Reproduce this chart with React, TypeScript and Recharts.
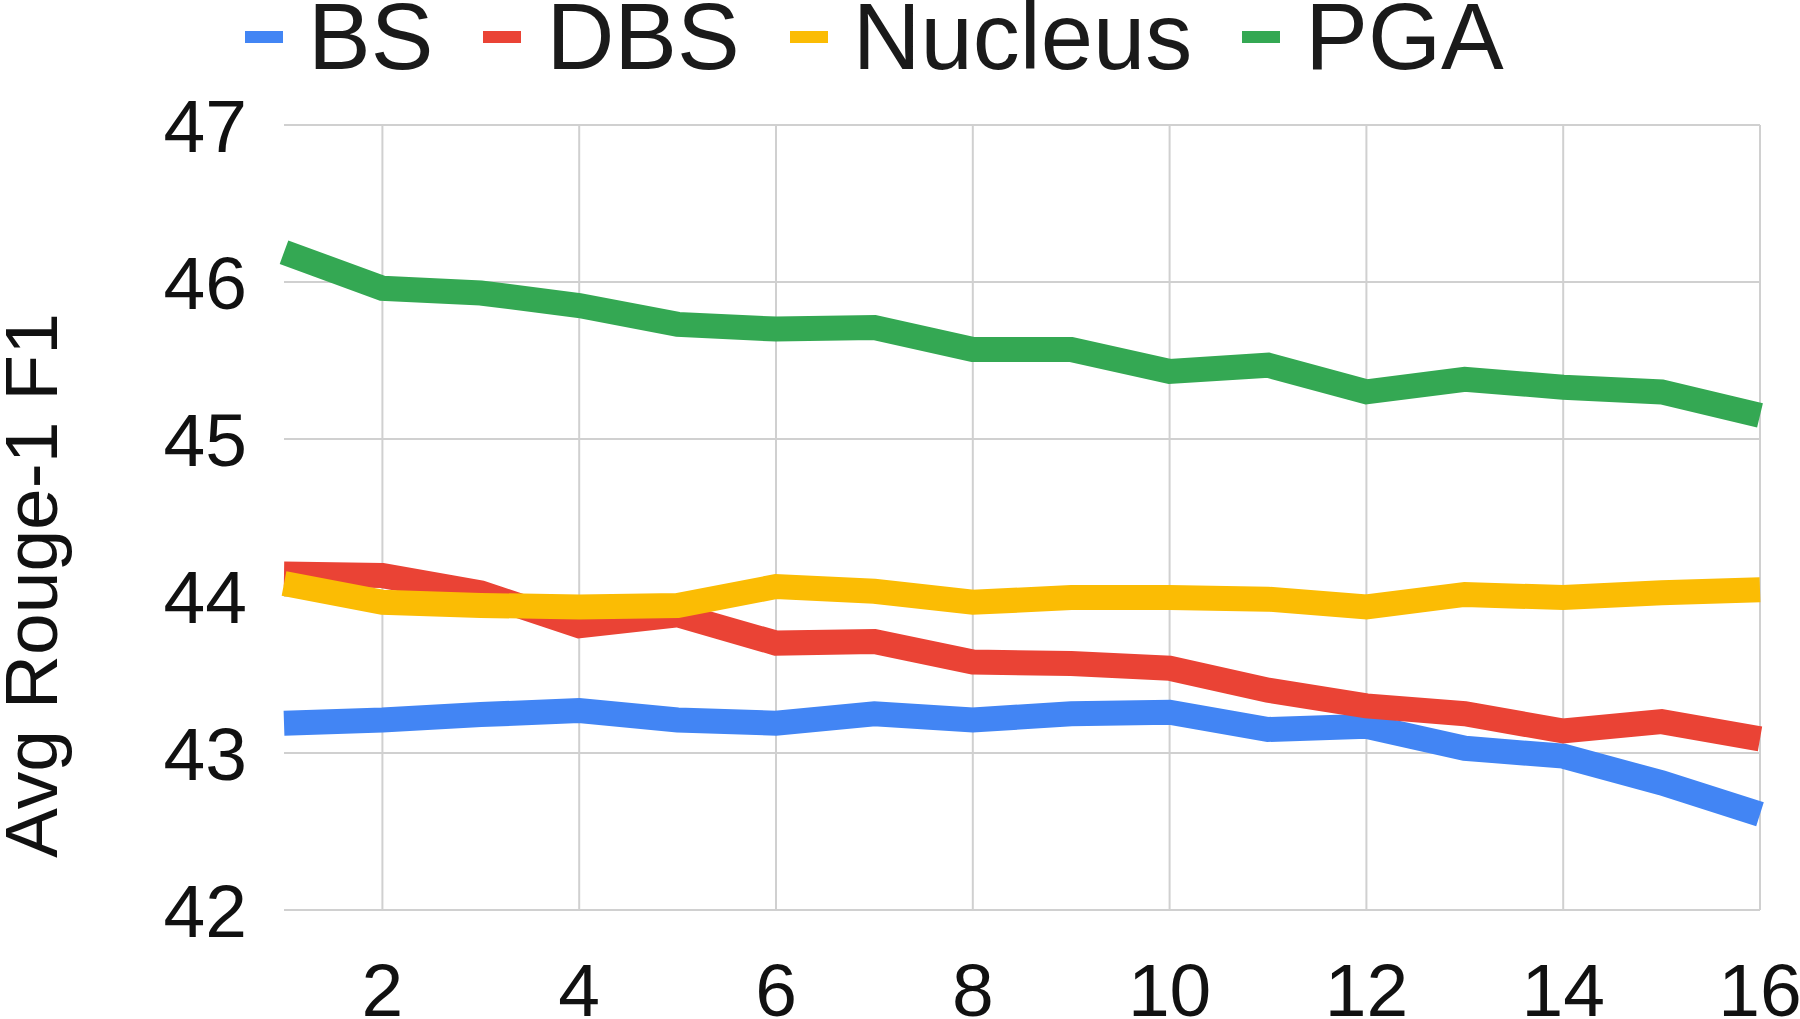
import React from 'react';
import { LineChart, Line, XAxis, YAxis, CartesianGrid, Legend, ReferenceLine } from 'recharts';

const steps = [1, 2, 3, 4, 5, 6, 7, 8, 9, 10, 11, 12, 13, 14, 15, 16];
const bs = [43.19, 43.21, 43.245, 43.27, 43.21, 43.19, 43.25, 43.21, 43.25, 43.26, 43.15, 43.17, 43.03, 42.98, 42.81, 42.61];
const dbs = [44.14, 44.13, 44.02, 43.81, 43.88, 43.7, 43.71, 43.58, 43.57, 43.54, 43.4, 43.3, 43.25, 43.14, 43.2, 43.09];
const nucleus = [44.08, 43.96, 43.94, 43.93, 43.94, 44.06, 44.03, 43.96, 43.99, 43.99, 43.98, 43.93, 44.01, 43.99, 44.02, 44.04];
const pga = [46.19, 45.96, 45.93, 45.85, 45.73, 45.7, 45.71, 45.57, 45.57, 45.43, 45.47, 45.3, 45.38, 45.33, 45.3, 45.15];

const xTicks = [2, 4, 6, 8, 10, 12, 14, 16];
const yTicks = [42, 43, 44, 45, 46, 47];

const series = [
  { key: 'BS', values: bs, color: '#4285F4' },
  { key: 'DBS', values: dbs, color: '#EA4335' },
  { key: 'Nucleus', values: nucleus, color: '#FBBC04' },
  { key: 'PGA', values: pga, color: '#34A853' },
];

const data = steps.map((step, i) => {
  const row: Record<string, number> = { step };
  series.forEach((s) => {
    row[s.key] = s.values[i];
  });
  return row;
});

const FONT = '"Liberation Sans", Arial, sans-serif';
const GRID = '#d0d0d0';

const LegendRow = () => (
  <div style={{ display: 'flex', alignItems: 'center', fontFamily: FONT, fontSize: 94, color: '#1a1a1a' }}>
    {series.map((s) => (
      <div key={s.key} style={{ display: 'flex', alignItems: 'center', marginRight: 50 }}>
        <span style={{ display: 'inline-block', width: 38, height: 12, background: s.color, marginRight: 25 }} />
        <span style={{ lineHeight: '74px' }}>{s.key}</span>
      </div>
    ))}
  </div>
);

// axis title sits a bit below the plot's middle, like the source
const YTitle = (props: any) => {
  const vb = props.viewBox || { x: 0, y: 0, width: 0, height: 0 };
  const x = vb.x + 57;
  const y = vb.y + vb.height / 2 + 68;
  return (
    <text
      x={x}
      y={y}
      transform={`rotate(-90 ${x} ${y})`}
      textAnchor="middle"
      fontFamily={FONT}
      fontSize={75}
      fill="#111"
    >
      Avg Rouge-1 F1
    </text>
  );
};

export default function App() {
  return (
    <div style={{ position: 'absolute', left: 0, top: 0, width: 1800, height: 1019, background: '#fff' }}>
      <LineChart width={1800} height={1019} data={data} margin={{ top: 125, right: 40, left: 0, bottom: 0 }}>
        <CartesianGrid stroke={GRID} strokeWidth={2} vertical={false} />
        {xTicks.map((t) => (
          <ReferenceLine key={`v-${t}`} x={t} stroke={GRID} strokeWidth={2} />
        ))}
        <XAxis
          dataKey="step"
          type="number"
          domain={[1, 16]}
          ticks={xTicks}
          height={109}
          axisLine={false}
          tickLine={false}
          tickSize={0}
          tickMargin={53}
          tick={{ fontFamily: FONT, fontSize: 75, fill: '#111' }}
        />
        <YAxis
          type="number"
          domain={[42, 47]}
          ticks={yTicks}
          width={284}
          axisLine={false}
          tickLine={false}
          tickSize={0}
          tickMargin={37}
          tick={{ fontFamily: FONT, fontSize: 75, fill: '#111' }}
          label={{ content: YTitle }}
        />
        <Legend
          verticalAlign="middle"
          align="center"
          layout="horizontal"
          content={() => <LegendRow />}
          wrapperStyle={{ top: 0, left: 245, width: 'auto' }}
        />
        {series.map((s) => (
          <Line
            key={s.key}
            type="linear"
            dataKey={s.key}
            stroke={s.color}
            strokeWidth={25}
            strokeLinecap="butt"
            dot={false}
            activeDot={false}
            isAnimationActive={false}
          />
        ))}
      </LineChart>
    </div>
  );
}
